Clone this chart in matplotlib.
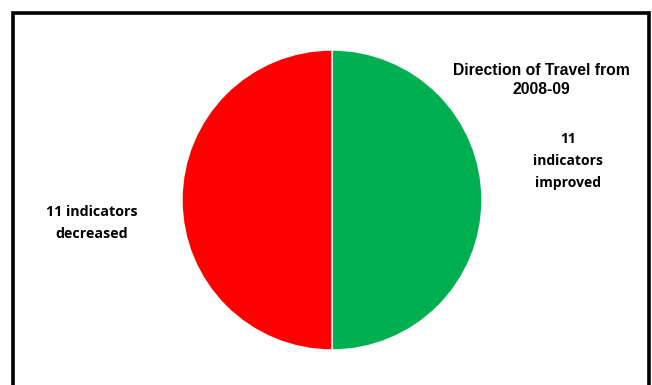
import matplotlib.pyplot as plt
from matplotlib.patches import Rectangle

labels = ['11\nindicators\nimproved', '11 indicators\ndecreased']
values = [11, 11]
colors = ['#00B050', '#FF0000']
title = 'Direction of Travel from\n2008-09'

W, H = 652, 385
fig = plt.figure(figsize=(W / 100, H / 100), dpi=100)

# chart frame (bottom edge runs off the picture)
top = 1 - 12.5 / H
fig.patches.append(Rectangle((13.5 / W, -0.1), 635 / W, top + 0.1,
                             transform=fig.transFigure, fill=False,
                             edgecolor='black', linewidth=2.6))

ax = fig.add_axes([182 / W, 35 / H, 300 / W, 300 / H])
ax.pie(values, colors=colors, startangle=90, counterclock=False,
       wedgeprops=dict(edgecolor='white', linewidth=1.0))
ax.set_xlim(-1, 1)
ax.set_ylim(-1, 1)
ax.set_aspect('equal')
ax.axis('off')

fig.text(541 / W, 1 - 80 / H, title, ha='center', va='center',
         family='Liberation Sans', weight='bold', fontsize=11.3, linespacing=1.3)
fig.text(568 / W, 1 - 161 / H, labels[0], ha='center', va='center',
         family='Open Sans', weight='bold', fontsize=10, linespacing=1.75)
fig.text(92 / W, 1 - 223 / H, labels[1], ha='center', va='center',
         family='Open Sans', weight='bold', fontsize=10.3, linespacing=1.65)

fig.savefig('out.png', dpi=100)
